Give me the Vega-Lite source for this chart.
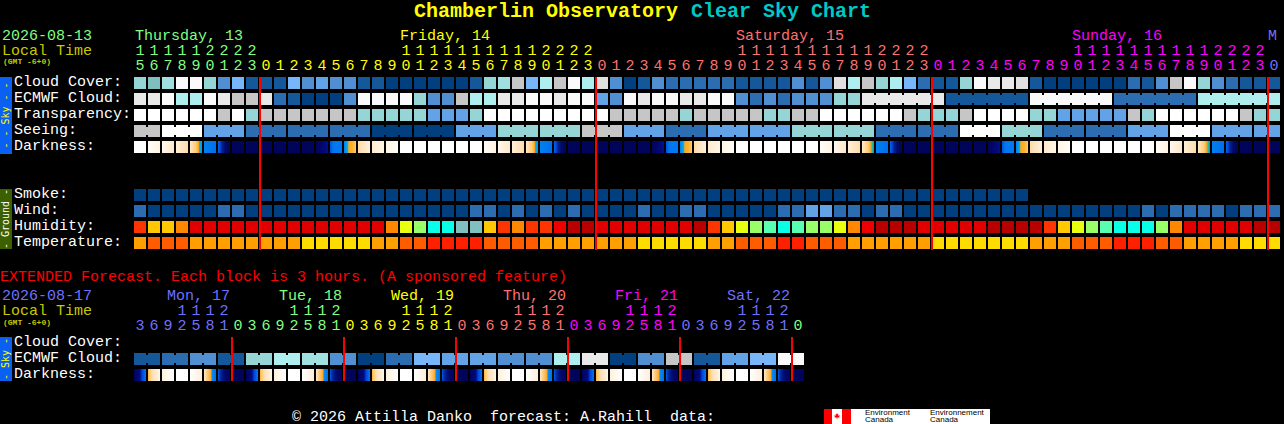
{"$schema":"https://vega.github.io/schema/vega-lite/v6.json","width":1284,"height":424,"autosize":{"type":"fit","contains":"padding"},"padding":0,"background":"#000000","config":{"view":{"stroke":null}},
"datasets":{
"cells":[
{"row":0,"cell":0,"level":"t"},{"row":0,"cell":1,"level":"T"},{"row":0,"cell":2,"level":"a"},{"row":0,"cell":3,"level":"w"},{"row":0,"cell":4,"level":"w"},{"row":0,"cell":5,"level":"t"},{"row":0,"cell":6,"level":"b"},{"row":0,"cell":7,"level":"s"},{"row":0,"cell":8,"level":"d"},{"row":0,"cell":9,"level":"d"},{"row":0,"cell":10,"level":"d"},{"row":0,"cell":11,"level":"s"},{"row":0,"cell":12,"level":"b"},{"row":0,"cell":13,"level":"l"},{"row":0,"cell":14,"level":"b"},{"row":0,"cell":15,"level":"b"},{"row":0,"cell":16,"level":"d"},{"row":0,"cell":17,"level":"d"},{"row":0,"cell":18,"level":"n"},{"row":0,"cell":19,"level":"n"},{"row":0,"cell":20,"level":"n"},{"row":0,"cell":21,"level":"n"},{"row":0,"cell":22,"level":"n"},{"row":0,"cell":23,"level":"n"},{"row":0,"cell":24,"level":"d"},{"row":0,"cell":25,"level":"t"},{"row":0,"cell":26,"level":"a"},{"row":0,"cell":27,"level":"g"},{"row":0,"cell":28,"level":"s"},{"row":0,"cell":29,"level":"p"},{"row":0,"cell":30,"level":"g"},{"row":0,"cell":31,"level":"w"},{"row":0,"cell":32,"level":"p"},{"row":0,"cell":33,"level":"h"},{"row":0,"cell":34,"level":"b"},{"row":0,"cell":35,"level":"n"},{"row":0,"cell":36,"level":"d"},{"row":0,"cell":37,"level":"b"},{"row":0,"cell":38,"level":"m"},{"row":0,"cell":39,"level":"m"},{"row":0,"cell":40,"level":"m"},{"row":0,"cell":41,"level":"m"},{"row":0,"cell":42,"level":"m"},{"row":0,"cell":43,"level":"d"},{"row":0,"cell":44,"level":"d"},{"row":0,"cell":45,"level":"d"},{"row":0,"cell":46,"level":"d"},{"row":0,"cell":47,"level":"b"},{"row":0,"cell":48,"level":"d"},{"row":0,"cell":49,"level":"b"},{"row":0,"cell":50,"level":"h"},{"row":0,"cell":51,"level":"p"},{"row":0,"cell":52,"level":"g"},{"row":0,"cell":53,"level":"t"},{"row":0,"cell":54,"level":"p"},{"row":0,"cell":55,"level":"s"},{"row":0,"cell":56,"level":"m"},{"row":0,"cell":57,"level":"d"},{"row":0,"cell":58,"level":"d"},{"row":0,"cell":59,"level":"t"},{"row":0,"cell":60,"level":"w"},{"row":0,"cell":61,"level":"e"},{"row":0,"cell":62,"level":"e"},{"row":0,"cell":63,"level":"h"},{"row":0,"cell":64,"level":"d"},{"row":0,"cell":65,"level":"n"},{"row":0,"cell":66,"level":"n"},{"row":0,"cell":67,"level":"n"},{"row":0,"cell":68,"level":"n"},{"row":0,"cell":69,"level":"n"},{"row":0,"cell":70,"level":"n"},{"row":0,"cell":71,"level":"m"},{"row":0,"cell":72,"level":"d"},{"row":0,"cell":73,"level":"b"},{"row":0,"cell":74,"level":"g"},{"row":0,"cell":75,"level":"w"},{"row":0,"cell":76,"level":"t"},{"row":0,"cell":77,"level":"b"},{"row":0,"cell":78,"level":"m"},{"row":0,"cell":79,"level":"d"},{"row":0,"cell":80,"level":"d"},{"row":0,"cell":81,"level":"d"},
{"row":1,"cell":0,"level":"e"},{"row":1,"cell":1,"level":"e"},{"row":1,"cell":2,"level":"w"},{"row":1,"cell":3,"level":"p"},{"row":1,"cell":4,"level":"p"},{"row":1,"cell":5,"level":"w"},{"row":1,"cell":6,"level":"e"},{"row":1,"cell":7,"level":"g"},{"row":1,"cell":8,"level":"g"},{"row":1,"cell":9,"level":"e"},{"row":1,"cell":10,"level":"m"},{"row":1,"cell":11,"level":"d"},{"row":1,"cell":12,"level":"n"},{"row":1,"cell":13,"level":"n"},{"row":1,"cell":14,"level":"n"},{"row":1,"cell":15,"level":"b"},{"row":1,"cell":16,"level":"w"},{"row":1,"cell":17,"level":"w"},{"row":1,"cell":18,"level":"w"},{"row":1,"cell":19,"level":"w"},{"row":1,"cell":20,"level":"t"},{"row":1,"cell":21,"level":"b"},{"row":1,"cell":22,"level":"b"},{"row":1,"cell":23,"level":"g"},{"row":1,"cell":24,"level":"p"},{"row":1,"cell":25,"level":"p"},{"row":1,"cell":26,"level":"e"},{"row":1,"cell":27,"level":"e"},{"row":1,"cell":28,"level":"w"},{"row":1,"cell":29,"level":"w"},{"row":1,"cell":30,"level":"e"},{"row":1,"cell":31,"level":"w"},{"row":1,"cell":32,"level":"w"},{"row":1,"cell":33,"level":"l"},{"row":1,"cell":34,"level":"b"},{"row":1,"cell":35,"level":"w"},{"row":1,"cell":36,"level":"e"},{"row":1,"cell":37,"level":"w"},{"row":1,"cell":38,"level":"w"},{"row":1,"cell":39,"level":"e"},{"row":1,"cell":40,"level":"e"},{"row":1,"cell":41,"level":"w"},{"row":1,"cell":42,"level":"w"},{"row":1,"cell":43,"level":"b"},{"row":1,"cell":44,"level":"m"},{"row":1,"cell":45,"level":"b"},{"row":1,"cell":46,"level":"m"},{"row":1,"cell":47,"level":"b"},{"row":1,"cell":48,"level":"b"},{"row":1,"cell":49,"level":"b"},{"row":1,"cell":50,"level":"t"},{"row":1,"cell":51,"level":"t"},{"row":1,"cell":52,"level":"e"},{"row":1,"cell":53,"level":"e"},{"row":1,"cell":54,"level":"e"},{"row":1,"cell":55,"level":"e"},{"row":1,"cell":56,"level":"e"},{"row":1,"cell":57,"level":"e"},{"row":1,"cell":58,"level":"d"},{"row":1,"cell":59,"level":"d"},{"row":1,"cell":60,"level":"d"},{"row":1,"cell":61,"level":"d"},{"row":1,"cell":62,"level":"d"},{"row":1,"cell":63,"level":"d"},{"row":1,"cell":64,"level":"w"},{"row":1,"cell":65,"level":"w"},{"row":1,"cell":66,"level":"w"},{"row":1,"cell":67,"level":"w"},{"row":1,"cell":68,"level":"w"},{"row":1,"cell":69,"level":"w"},{"row":1,"cell":70,"level":"m"},{"row":1,"cell":71,"level":"m"},{"row":1,"cell":72,"level":"m"},{"row":1,"cell":73,"level":"m"},{"row":1,"cell":74,"level":"m"},{"row":1,"cell":75,"level":"m"},{"row":1,"cell":76,"level":"p"},{"row":1,"cell":77,"level":"p"},{"row":1,"cell":78,"level":"p"},{"row":1,"cell":79,"level":"p"},{"row":1,"cell":80,"level":"p"},{"row":1,"cell":81,"level":"p"},
{"row":2,"cell":0,"level":"W"},{"row":2,"cell":1,"level":"W"},{"row":2,"cell":2,"level":"W"},{"row":2,"cell":3,"level":"W"},{"row":2,"cell":4,"level":"W"},{"row":2,"cell":5,"level":"W"},{"row":2,"cell":6,"level":"g"},{"row":2,"cell":7,"level":"W"},{"row":2,"cell":8,"level":"t"},{"row":2,"cell":9,"level":"g"},{"row":2,"cell":10,"level":"g"},{"row":2,"cell":11,"level":"g"},{"row":2,"cell":12,"level":"g"},{"row":2,"cell":13,"level":"g"},{"row":2,"cell":14,"level":"g"},{"row":2,"cell":15,"level":"g"},{"row":2,"cell":16,"level":"t"},{"row":2,"cell":17,"level":"t"},{"row":2,"cell":18,"level":"t"},{"row":2,"cell":19,"level":"t"},{"row":2,"cell":20,"level":"t"},{"row":2,"cell":21,"level":"l"},{"row":2,"cell":22,"level":"l"},{"row":2,"cell":23,"level":"l"},{"row":2,"cell":24,"level":"t"},{"row":2,"cell":25,"level":"W"},{"row":2,"cell":26,"level":"W"},{"row":2,"cell":27,"level":"W"},{"row":2,"cell":28,"level":"W"},{"row":2,"cell":29,"level":"W"},{"row":2,"cell":30,"level":"W"},{"row":2,"cell":31,"level":"W"},{"row":2,"cell":32,"level":"W"},{"row":2,"cell":33,"level":"W"},{"row":2,"cell":34,"level":"g"},{"row":2,"cell":35,"level":"g"},{"row":2,"cell":36,"level":"g"},{"row":2,"cell":37,"level":"g"},{"row":2,"cell":38,"level":"g"},{"row":2,"cell":39,"level":"t"},{"row":2,"cell":40,"level":"g"},{"row":2,"cell":41,"level":"g"},{"row":2,"cell":42,"level":"g"},{"row":2,"cell":43,"level":"g"},{"row":2,"cell":44,"level":"g"},{"row":2,"cell":45,"level":"t"},{"row":2,"cell":46,"level":"t"},{"row":2,"cell":47,"level":"g"},{"row":2,"cell":48,"level":"g"},{"row":2,"cell":49,"level":"W"},{"row":2,"cell":50,"level":"W"},{"row":2,"cell":51,"level":"W"},{"row":2,"cell":52,"level":"W"},{"row":2,"cell":53,"level":"W"},{"row":2,"cell":54,"level":"W"},{"row":2,"cell":55,"level":"g"},{"row":2,"cell":56,"level":"t"},{"row":2,"cell":57,"level":"t"},{"row":2,"cell":58,"level":"t"},{"row":2,"cell":59,"level":"g"},{"row":2,"cell":60,"level":"W"},{"row":2,"cell":61,"level":"W"},{"row":2,"cell":62,"level":"W"},{"row":2,"cell":63,"level":"W"},{"row":2,"cell":64,"level":"t"},{"row":2,"cell":65,"level":"t"},{"row":2,"cell":66,"level":"l"},{"row":2,"cell":67,"level":"l"},{"row":2,"cell":68,"level":"l"},{"row":2,"cell":69,"level":"l"},{"row":2,"cell":70,"level":"l"},{"row":2,"cell":71,"level":"g"},{"row":2,"cell":72,"level":"t"},{"row":2,"cell":73,"level":"W"},{"row":2,"cell":74,"level":"W"},{"row":2,"cell":75,"level":"W"},{"row":2,"cell":76,"level":"W"},{"row":2,"cell":77,"level":"W"},{"row":2,"cell":78,"level":"W"},{"row":2,"cell":79,"level":"g"},{"row":2,"cell":80,"level":"t"},{"row":2,"cell":81,"level":"t"},
{"row":3,"cell":0,"level":"g"},{"row":3,"cell":1,"level":"g"},{"row":3,"cell":2,"level":"W"},{"row":3,"cell":3,"level":"W"},{"row":3,"cell":4,"level":"W"},{"row":3,"cell":5,"level":"l"},{"row":3,"cell":6,"level":"l"},{"row":3,"cell":7,"level":"l"},{"row":3,"cell":8,"level":"m"},{"row":3,"cell":9,"level":"m"},{"row":3,"cell":10,"level":"m"},{"row":3,"cell":11,"level":"m"},{"row":3,"cell":12,"level":"m"},{"row":3,"cell":13,"level":"m"},{"row":3,"cell":14,"level":"m"},{"row":3,"cell":15,"level":"m"},{"row":3,"cell":16,"level":"m"},{"row":3,"cell":17,"level":"n"},{"row":3,"cell":18,"level":"n"},{"row":3,"cell":19,"level":"n"},{"row":3,"cell":20,"level":"n"},{"row":3,"cell":21,"level":"n"},{"row":3,"cell":22,"level":"n"},{"row":3,"cell":23,"level":"l"},{"row":3,"cell":24,"level":"l"},{"row":3,"cell":25,"level":"l"},{"row":3,"cell":26,"level":"t"},{"row":3,"cell":27,"level":"t"},{"row":3,"cell":28,"level":"t"},{"row":3,"cell":29,"level":"t"},{"row":3,"cell":30,"level":"t"},{"row":3,"cell":31,"level":"t"},{"row":3,"cell":32,"level":"g"},{"row":3,"cell":33,"level":"g"},{"row":3,"cell":34,"level":"g"},{"row":3,"cell":35,"level":"l"},{"row":3,"cell":36,"level":"l"},{"row":3,"cell":37,"level":"l"},{"row":3,"cell":38,"level":"m"},{"row":3,"cell":39,"level":"m"},{"row":3,"cell":40,"level":"m"},{"row":3,"cell":41,"level":"l"},{"row":3,"cell":42,"level":"l"},{"row":3,"cell":43,"level":"l"},{"row":3,"cell":44,"level":"l"},{"row":3,"cell":45,"level":"l"},{"row":3,"cell":46,"level":"l"},{"row":3,"cell":47,"level":"t"},{"row":3,"cell":48,"level":"t"},{"row":3,"cell":49,"level":"t"},{"row":3,"cell":50,"level":"t"},{"row":3,"cell":51,"level":"t"},{"row":3,"cell":52,"level":"t"},{"row":3,"cell":53,"level":"m"},{"row":3,"cell":54,"level":"m"},{"row":3,"cell":55,"level":"m"},{"row":3,"cell":56,"level":"m"},{"row":3,"cell":57,"level":"m"},{"row":3,"cell":58,"level":"m"},{"row":3,"cell":59,"level":"W"},{"row":3,"cell":60,"level":"W"},{"row":3,"cell":61,"level":"W"},{"row":3,"cell":62,"level":"t"},{"row":3,"cell":63,"level":"t"},{"row":3,"cell":64,"level":"t"},{"row":3,"cell":65,"level":"m"},{"row":3,"cell":66,"level":"m"},{"row":3,"cell":67,"level":"m"},{"row":3,"cell":68,"level":"m"},{"row":3,"cell":69,"level":"m"},{"row":3,"cell":70,"level":"m"},{"row":3,"cell":71,"level":"l"},{"row":3,"cell":72,"level":"l"},{"row":3,"cell":73,"level":"l"},{"row":3,"cell":74,"level":"W"},{"row":3,"cell":75,"level":"W"},{"row":3,"cell":76,"level":"W"},{"row":3,"cell":77,"level":"l"},{"row":3,"cell":78,"level":"l"},{"row":3,"cell":79,"level":"l"},{"row":3,"cell":80,"level":"l"},{"row":3,"cell":81,"level":"l"},
{"row":4,"cell":0,"level":"W"},{"row":4,"cell":1,"level":"E1"},{"row":4,"cell":2,"level":"E2"},{"row":4,"cell":3,"level":"E3"},{"row":4,"cell":4,"level":"E4"},{"row":4,"cell":5,"level":"E5"},{"row":4,"cell":6,"level":"E6"},{"row":4,"cell":7,"level":"N"},{"row":4,"cell":8,"level":"N"},{"row":4,"cell":9,"level":"N"},{"row":4,"cell":10,"level":"N"},{"row":4,"cell":11,"level":"N"},{"row":4,"cell":12,"level":"N"},{"row":4,"cell":13,"level":"M1"},{"row":4,"cell":14,"level":"M2"},{"row":4,"cell":15,"level":"M3"},{"row":4,"cell":16,"level":"M4"},{"row":4,"cell":17,"level":"M5"},{"row":4,"cell":18,"level":"M6"},{"row":4,"cell":19,"level":"W"},{"row":4,"cell":20,"level":"W"},{"row":4,"cell":21,"level":"W"},{"row":4,"cell":22,"level":"W"},{"row":4,"cell":23,"level":"W"},{"row":4,"cell":24,"level":"W"},{"row":4,"cell":25,"level":"E1"},{"row":4,"cell":26,"level":"E2"},{"row":4,"cell":27,"level":"E3"},{"row":4,"cell":28,"level":"E4"},{"row":4,"cell":29,"level":"E5"},{"row":4,"cell":30,"level":"E6"},{"row":4,"cell":31,"level":"N"},{"row":4,"cell":32,"level":"N"},{"row":4,"cell":33,"level":"N"},{"row":4,"cell":34,"level":"N"},{"row":4,"cell":35,"level":"N"},{"row":4,"cell":36,"level":"N"},{"row":4,"cell":37,"level":"M1"},{"row":4,"cell":38,"level":"M2"},{"row":4,"cell":39,"level":"M3"},{"row":4,"cell":40,"level":"M4"},{"row":4,"cell":41,"level":"M5"},{"row":4,"cell":42,"level":"M6"},{"row":4,"cell":43,"level":"W"},{"row":4,"cell":44,"level":"W"},{"row":4,"cell":45,"level":"W"},{"row":4,"cell":46,"level":"W"},{"row":4,"cell":47,"level":"W"},{"row":4,"cell":48,"level":"W"},{"row":4,"cell":49,"level":"E1"},{"row":4,"cell":50,"level":"E2"},{"row":4,"cell":51,"level":"E3"},{"row":4,"cell":52,"level":"E4b"},{"row":4,"cell":53,"level":"E5"},{"row":4,"cell":54,"level":"E6"},{"row":4,"cell":55,"level":"N"},{"row":4,"cell":56,"level":"N"},{"row":4,"cell":57,"level":"N"},{"row":4,"cell":58,"level":"N"},{"row":4,"cell":59,"level":"N"},{"row":4,"cell":60,"level":"N"},{"row":4,"cell":61,"level":"M1"},{"row":4,"cell":62,"level":"M2"},{"row":4,"cell":63,"level":"M3"},{"row":4,"cell":64,"level":"M4"},{"row":4,"cell":65,"level":"M5"},{"row":4,"cell":66,"level":"M6"},{"row":4,"cell":67,"level":"W"},{"row":4,"cell":68,"level":"W"},{"row":4,"cell":69,"level":"W"},{"row":4,"cell":70,"level":"W"},{"row":4,"cell":71,"level":"W"},{"row":4,"cell":72,"level":"W"},{"row":4,"cell":73,"level":"E1"},{"row":4,"cell":74,"level":"E2"},{"row":4,"cell":75,"level":"E3"},{"row":4,"cell":76,"level":"E4b"},{"row":4,"cell":77,"level":"E5"},{"row":4,"cell":78,"level":"E6"},{"row":4,"cell":79,"level":"N"},{"row":4,"cell":80,"level":"N"},{"row":4,"cell":81,"level":"N"},
{"row":7,"cell":0,"level":"n"},{"row":7,"cell":1,"level":"n"},{"row":7,"cell":2,"level":"n"},{"row":7,"cell":3,"level":"n"},{"row":7,"cell":4,"level":"n"},{"row":7,"cell":5,"level":"n"},{"row":7,"cell":6,"level":"n"},{"row":7,"cell":7,"level":"n"},{"row":7,"cell":8,"level":"n"},{"row":7,"cell":9,"level":"n"},{"row":7,"cell":10,"level":"n"},{"row":7,"cell":11,"level":"n"},{"row":7,"cell":12,"level":"n"},{"row":7,"cell":13,"level":"n"},{"row":7,"cell":14,"level":"n"},{"row":7,"cell":15,"level":"n"},{"row":7,"cell":16,"level":"n"},{"row":7,"cell":17,"level":"n"},{"row":7,"cell":18,"level":"n"},{"row":7,"cell":19,"level":"n"},{"row":7,"cell":20,"level":"n"},{"row":7,"cell":21,"level":"n"},{"row":7,"cell":22,"level":"n"},{"row":7,"cell":23,"level":"n"},{"row":7,"cell":24,"level":"n"},{"row":7,"cell":25,"level":"n"},{"row":7,"cell":26,"level":"n"},{"row":7,"cell":27,"level":"n"},{"row":7,"cell":28,"level":"n"},{"row":7,"cell":29,"level":"n"},{"row":7,"cell":30,"level":"n"},{"row":7,"cell":31,"level":"n"},{"row":7,"cell":32,"level":"n"},{"row":7,"cell":33,"level":"n"},{"row":7,"cell":34,"level":"n"},{"row":7,"cell":35,"level":"n"},{"row":7,"cell":36,"level":"n"},{"row":7,"cell":37,"level":"n"},{"row":7,"cell":38,"level":"n"},{"row":7,"cell":39,"level":"n"},{"row":7,"cell":40,"level":"n"},{"row":7,"cell":41,"level":"n"},{"row":7,"cell":42,"level":"n"},{"row":7,"cell":43,"level":"n"},{"row":7,"cell":44,"level":"n"},{"row":7,"cell":45,"level":"n"},{"row":7,"cell":46,"level":"n"},{"row":7,"cell":47,"level":"n"},{"row":7,"cell":48,"level":"n"},{"row":7,"cell":49,"level":"n"},{"row":7,"cell":50,"level":"n"},{"row":7,"cell":51,"level":"n"},{"row":7,"cell":52,"level":"n"},{"row":7,"cell":53,"level":"n"},{"row":7,"cell":54,"level":"n"},{"row":7,"cell":55,"level":"n"},{"row":7,"cell":56,"level":"n"},{"row":7,"cell":57,"level":"n"},{"row":7,"cell":58,"level":"n"},{"row":7,"cell":59,"level":"n"},{"row":7,"cell":60,"level":"n"},{"row":7,"cell":61,"level":"n"},{"row":7,"cell":62,"level":"n"},{"row":7,"cell":63,"level":"n"},
{"row":8,"cell":0,"level":"m"},{"row":8,"cell":1,"level":"n"},{"row":8,"cell":2,"level":"n"},{"row":8,"cell":3,"level":"n"},{"row":8,"cell":4,"level":"n"},{"row":8,"cell":5,"level":"n"},{"row":8,"cell":6,"level":"m"},{"row":8,"cell":7,"level":"m"},{"row":8,"cell":8,"level":"n"},{"row":8,"cell":9,"level":"n"},{"row":8,"cell":10,"level":"n"},{"row":8,"cell":11,"level":"n"},{"row":8,"cell":12,"level":"n"},{"row":8,"cell":13,"level":"n"},{"row":8,"cell":14,"level":"n"},{"row":8,"cell":15,"level":"n"},{"row":8,"cell":16,"level":"n"},{"row":8,"cell":17,"level":"n"},{"row":8,"cell":18,"level":"n"},{"row":8,"cell":19,"level":"n"},{"row":8,"cell":20,"level":"n"},{"row":8,"cell":21,"level":"n"},{"row":8,"cell":22,"level":"n"},{"row":8,"cell":23,"level":"n"},{"row":8,"cell":24,"level":"m"},{"row":8,"cell":25,"level":"m"},{"row":8,"cell":26,"level":"n"},{"row":8,"cell":27,"level":"m"},{"row":8,"cell":28,"level":"n"},{"row":8,"cell":29,"level":"m"},{"row":8,"cell":30,"level":"n"},{"row":8,"cell":31,"level":"m"},{"row":8,"cell":32,"level":"n"},{"row":8,"cell":33,"level":"n"},{"row":8,"cell":34,"level":"n"},{"row":8,"cell":35,"level":"n"},{"row":8,"cell":36,"level":"m"},{"row":8,"cell":37,"level":"n"},{"row":8,"cell":38,"level":"n"},{"row":8,"cell":39,"level":"m"},{"row":8,"cell":40,"level":"m"},{"row":8,"cell":41,"level":"n"},{"row":8,"cell":42,"level":"n"},{"row":8,"cell":43,"level":"n"},{"row":8,"cell":44,"level":"n"},{"row":8,"cell":45,"level":"n"},{"row":8,"cell":46,"level":"m"},{"row":8,"cell":47,"level":"m"},{"row":8,"cell":48,"level":"l"},{"row":8,"cell":49,"level":"l"},{"row":8,"cell":50,"level":"m"},{"row":8,"cell":51,"level":"m"},{"row":8,"cell":52,"level":"n"},{"row":8,"cell":53,"level":"m"},{"row":8,"cell":54,"level":"m"},{"row":8,"cell":55,"level":"n"},{"row":8,"cell":56,"level":"n"},{"row":8,"cell":57,"level":"n"},{"row":8,"cell":58,"level":"n"},{"row":8,"cell":59,"level":"n"},{"row":8,"cell":60,"level":"n"},{"row":8,"cell":61,"level":"n"},{"row":8,"cell":62,"level":"n"},{"row":8,"cell":63,"level":"n"},{"row":8,"cell":64,"level":"n"},{"row":8,"cell":65,"level":"n"},{"row":8,"cell":66,"level":"n"},{"row":8,"cell":67,"level":"n"},{"row":8,"cell":68,"level":"n"},{"row":8,"cell":69,"level":"n"},{"row":8,"cell":70,"level":"n"},{"row":8,"cell":71,"level":"n"},{"row":8,"cell":72,"level":"m"},{"row":8,"cell":73,"level":"n"},{"row":8,"cell":74,"level":"m"},{"row":8,"cell":75,"level":"m"},{"row":8,"cell":76,"level":"m"},{"row":8,"cell":77,"level":"m"},{"row":8,"cell":78,"level":"n"},{"row":8,"cell":79,"level":"m"},{"row":8,"cell":80,"level":"m"},{"row":8,"cell":81,"level":"m"},
{"row":9,"cell":0,"level":"ho"},{"row":9,"cell":1,"level":"hY"},{"row":9,"cell":2,"level":"hY"},{"row":9,"cell":3,"level":"hO"},{"row":9,"cell":4,"level":"hr"},{"row":9,"cell":5,"level":"hr"},{"row":9,"cell":6,"level":"hr"},{"row":9,"cell":7,"level":"hr"},{"row":9,"cell":8,"level":"hr"},{"row":9,"cell":9,"level":"hr"},{"row":9,"cell":10,"level":"hr"},{"row":9,"cell":11,"level":"hr"},{"row":9,"cell":12,"level":"hr"},{"row":9,"cell":13,"level":"hr"},{"row":9,"cell":14,"level":"hr"},{"row":9,"cell":15,"level":"hr"},{"row":9,"cell":16,"level":"hr"},{"row":9,"cell":17,"level":"hr"},{"row":9,"cell":18,"level":"hO"},{"row":9,"cell":19,"level":"hy"},{"row":9,"cell":20,"level":"hG"},{"row":9,"cell":21,"level":"hC"},{"row":9,"cell":22,"level":"hC"},{"row":9,"cell":23,"level":"hA"},{"row":9,"cell":24,"level":"hA"},{"row":9,"cell":25,"level":"hY"},{"row":9,"cell":26,"level":"ho"},{"row":9,"cell":27,"level":"hO"},{"row":9,"cell":28,"level":"ho"},{"row":9,"cell":29,"level":"ho"},{"row":9,"cell":30,"level":"hE"},{"row":9,"cell":31,"level":"hR"},{"row":9,"cell":32,"level":"hR"},{"row":9,"cell":33,"level":"hr"},{"row":9,"cell":34,"level":"hr"},{"row":9,"cell":35,"level":"hr"},{"row":9,"cell":36,"level":"hr"},{"row":9,"cell":37,"level":"hr"},{"row":9,"cell":38,"level":"hr"},{"row":9,"cell":39,"level":"hr"},{"row":9,"cell":40,"level":"hR"},{"row":9,"cell":41,"level":"ho"},{"row":9,"cell":42,"level":"hY"},{"row":9,"cell":43,"level":"hy"},{"row":9,"cell":44,"level":"hG"},{"row":9,"cell":45,"level":"hM"},{"row":9,"cell":46,"level":"hC"},{"row":9,"cell":47,"level":"hM"},{"row":9,"cell":48,"level":"hG"},{"row":9,"cell":49,"level":"hG"},{"row":9,"cell":50,"level":"hy"},{"row":9,"cell":51,"level":"hO"},{"row":9,"cell":52,"level":"hE"},{"row":9,"cell":53,"level":"hR"},{"row":9,"cell":54,"level":"hR"},{"row":9,"cell":55,"level":"hR"},{"row":9,"cell":56,"level":"hr"},{"row":9,"cell":57,"level":"hr"},{"row":9,"cell":58,"level":"hr"},{"row":9,"cell":59,"level":"hr"},{"row":9,"cell":60,"level":"hr"},{"row":9,"cell":61,"level":"hR"},{"row":9,"cell":62,"level":"hR"},{"row":9,"cell":63,"level":"hR"},{"row":9,"cell":64,"level":"hR"},{"row":9,"cell":65,"level":"ho"},{"row":9,"cell":66,"level":"hY"},{"row":9,"cell":67,"level":"hy"},{"row":9,"cell":68,"level":"hG"},{"row":9,"cell":69,"level":"hM"},{"row":9,"cell":70,"level":"hC"},{"row":9,"cell":71,"level":"hC"},{"row":9,"cell":72,"level":"hC"},{"row":9,"cell":73,"level":"hG"},{"row":9,"cell":74,"level":"hO"},{"row":9,"cell":75,"level":"hr"},{"row":9,"cell":76,"level":"hr"},{"row":9,"cell":77,"level":"hr"},{"row":9,"cell":78,"level":"hr"},{"row":9,"cell":79,"level":"hr"},{"row":9,"cell":80,"level":"hR"},{"row":9,"cell":81,"level":"hR"},
{"row":10,"cell":0,"level":"ta"},{"row":10,"cell":1,"level":"tf"},{"row":10,"cell":2,"level":"tf"},{"row":10,"cell":3,"level":"tf"},{"row":10,"cell":4,"level":"ta"},{"row":10,"cell":5,"level":"ta"},{"row":10,"cell":6,"level":"ta"},{"row":10,"cell":7,"level":"ta"},{"row":10,"cell":8,"level":"ta"},{"row":10,"cell":9,"level":"ta"},{"row":10,"cell":10,"level":"ta"},{"row":10,"cell":11,"level":"ta"},{"row":10,"cell":12,"level":"ty"},{"row":10,"cell":13,"level":"ty"},{"row":10,"cell":14,"level":"ty"},{"row":10,"cell":15,"level":"ty"},{"row":10,"cell":16,"level":"ty"},{"row":10,"cell":17,"level":"ta"},{"row":10,"cell":18,"level":"ta"},{"row":10,"cell":19,"level":"tf"},{"row":10,"cell":20,"level":"tf"},{"row":10,"cell":21,"level":"tr"},{"row":10,"cell":22,"level":"tr"},{"row":10,"cell":23,"level":"tr"},{"row":10,"cell":24,"level":"tr"},{"row":10,"cell":25,"level":"tf"},{"row":10,"cell":26,"level":"tf"},{"row":10,"cell":27,"level":"tf"},{"row":10,"cell":28,"level":"tf"},{"row":10,"cell":29,"level":"ta"},{"row":10,"cell":30,"level":"ta"},{"row":10,"cell":31,"level":"ta"},{"row":10,"cell":32,"level":"ta"},{"row":10,"cell":33,"level":"ta"},{"row":10,"cell":34,"level":"ta"},{"row":10,"cell":35,"level":"ta"},{"row":10,"cell":36,"level":"ty"},{"row":10,"cell":37,"level":"ty"},{"row":10,"cell":38,"level":"ty"},{"row":10,"cell":39,"level":"ty"},{"row":10,"cell":40,"level":"ty"},{"row":10,"cell":41,"level":"ta"},{"row":10,"cell":42,"level":"ta"},{"row":10,"cell":43,"level":"tf"},{"row":10,"cell":44,"level":"tf"},{"row":10,"cell":45,"level":"tf"},{"row":10,"cell":46,"level":"tr"},{"row":10,"cell":47,"level":"tr"},{"row":10,"cell":48,"level":"tf"},{"row":10,"cell":49,"level":"tf"},{"row":10,"cell":50,"level":"tf"},{"row":10,"cell":51,"level":"ta"},{"row":10,"cell":52,"level":"ta"},{"row":10,"cell":53,"level":"ta"},{"row":10,"cell":54,"level":"ta"},{"row":10,"cell":55,"level":"ta"},{"row":10,"cell":56,"level":"ta"},{"row":10,"cell":57,"level":"ty"},{"row":10,"cell":58,"level":"ty"},{"row":10,"cell":59,"level":"ty"},{"row":10,"cell":60,"level":"ty"},{"row":10,"cell":61,"level":"ty"},{"row":10,"cell":62,"level":"ty"},{"row":10,"cell":63,"level":"ty"},{"row":10,"cell":64,"level":"ta"},{"row":10,"cell":65,"level":"ta"},{"row":10,"cell":66,"level":"ta"},{"row":10,"cell":67,"level":"tf"},{"row":10,"cell":68,"level":"tf"},{"row":10,"cell":69,"level":"tf"},{"row":10,"cell":70,"level":"tr"},{"row":10,"cell":71,"level":"tr"},{"row":10,"cell":72,"level":"tr"},{"row":10,"cell":73,"level":"tf"},{"row":10,"cell":74,"level":"tf"},{"row":10,"cell":75,"level":"ta"},{"row":10,"cell":76,"level":"ta"},{"row":10,"cell":77,"level":"ta"},{"row":10,"cell":78,"level":"ta"},{"row":10,"cell":79,"level":"ty"},{"row":10,"cell":80,"level":"ty"},{"row":10,"cell":81,"level":"ty"},
{"row":17.25,"cell":0,"level":"d"},{"row":17.25,"cell":1,"level":"d"},{"row":17.25,"cell":2,"level":"m"},{"row":17.25,"cell":3,"level":"m"},{"row":17.25,"cell":4,"level":"b"},{"row":17.25,"cell":5,"level":"b"},{"row":17.25,"cell":6,"level":"d"},{"row":17.25,"cell":7,"level":"d"},{"row":17.25,"cell":8,"level":"t"},{"row":17.25,"cell":9,"level":"t"},{"row":17.25,"cell":10,"level":"p"},{"row":17.25,"cell":11,"level":"p"},{"row":17.25,"cell":12,"level":"a"},{"row":17.25,"cell":13,"level":"a"},{"row":17.25,"cell":14,"level":"b"},{"row":17.25,"cell":15,"level":"b"},{"row":17.25,"cell":16,"level":"n"},{"row":17.25,"cell":17,"level":"n"},{"row":17.25,"cell":18,"level":"m"},{"row":17.25,"cell":19,"level":"m"},{"row":17.25,"cell":20,"level":"s"},{"row":17.25,"cell":21,"level":"s"},{"row":17.25,"cell":22,"level":"l"},{"row":17.25,"cell":23,"level":"l"},{"row":17.25,"cell":24,"level":"l"},{"row":17.25,"cell":25,"level":"l"},{"row":17.25,"cell":26,"level":"b"},{"row":17.25,"cell":27,"level":"b"},{"row":17.25,"cell":28,"level":"b"},{"row":17.25,"cell":29,"level":"b"},{"row":17.25,"cell":30,"level":"p"},{"row":17.25,"cell":31,"level":"p"},{"row":17.25,"cell":32,"level":"e"},{"row":17.25,"cell":33,"level":"e"},{"row":17.25,"cell":34,"level":"n"},{"row":17.25,"cell":35,"level":"n"},{"row":17.25,"cell":36,"level":"b"},{"row":17.25,"cell":37,"level":"b"},{"row":17.25,"cell":38,"level":"g"},{"row":17.25,"cell":39,"level":"g"},{"row":17.25,"cell":40,"level":"d"},{"row":17.25,"cell":41,"level":"d"},{"row":17.25,"cell":42,"level":"l"},{"row":17.25,"cell":43,"level":"l"},{"row":17.25,"cell":44,"level":"s"},{"row":17.25,"cell":45,"level":"s"},{"row":17.25,"cell":46,"level":"w"},{"row":17.25,"cell":47,"level":"w"},
{"row":18.25,"cell":0,"level":"X0"},{"row":18.25,"cell":1,"level":"X1"},{"row":18.25,"cell":2,"level":"X2"},{"row":18.25,"cell":3,"level":"W"},{"row":18.25,"cell":4,"level":"X4"},{"row":18.25,"cell":5,"level":"X5"},{"row":18.25,"cell":6,"level":"X6"},{"row":18.25,"cell":7,"level":"N"},{"row":18.25,"cell":8,"level":"X0"},{"row":18.25,"cell":9,"level":"X1"},{"row":18.25,"cell":10,"level":"X2"},{"row":18.25,"cell":11,"level":"W"},{"row":18.25,"cell":12,"level":"X4"},{"row":18.25,"cell":13,"level":"X5"},{"row":18.25,"cell":14,"level":"X6"},{"row":18.25,"cell":15,"level":"N"},{"row":18.25,"cell":16,"level":"X0"},{"row":18.25,"cell":17,"level":"X1"},{"row":18.25,"cell":18,"level":"X2"},{"row":18.25,"cell":19,"level":"W"},{"row":18.25,"cell":20,"level":"X4"},{"row":18.25,"cell":21,"level":"X5"},{"row":18.25,"cell":22,"level":"X6"},{"row":18.25,"cell":23,"level":"N"},{"row":18.25,"cell":24,"level":"X0"},{"row":18.25,"cell":25,"level":"X1"},{"row":18.25,"cell":26,"level":"X2"},{"row":18.25,"cell":27,"level":"W"},{"row":18.25,"cell":28,"level":"X4"},{"row":18.25,"cell":29,"level":"X5"},{"row":18.25,"cell":30,"level":"X6"},{"row":18.25,"cell":31,"level":"N"},{"row":18.25,"cell":32,"level":"X0"},{"row":18.25,"cell":33,"level":"X1"},{"row":18.25,"cell":34,"level":"X2"},{"row":18.25,"cell":35,"level":"W"},{"row":18.25,"cell":36,"level":"X4"},{"row":18.25,"cell":37,"level":"X5"},{"row":18.25,"cell":38,"level":"X6"},{"row":18.25,"cell":39,"level":"N"},{"row":18.25,"cell":40,"level":"X0"},{"row":18.25,"cell":41,"level":"X1"},{"row":18.25,"cell":42,"level":"X2"},{"row":18.25,"cell":43,"level":"W"},{"row":18.25,"cell":44,"level":"X4"},{"row":18.25,"cell":45,"level":"X5"},{"row":18.25,"cell":46,"level":"X6"},{"row":18.25,"cell":47,"level":"N"}
],
"links":[
{"row":1,"cell":52,"cell2":57,"level":"e"},{"row":1,"cell":58,"cell2":63,"level":"d"},{"row":1,"cell":64,"cell2":69,"level":"w"},{"row":1,"cell":70,"cell2":75,"level":"m"},{"row":1,"cell":76,"cell2":81,"level":"p"},
{"row":3,"cell":0,"cell2":1,"level":"g"},{"row":3,"cell":2,"cell2":4,"level":"W"},{"row":3,"cell":5,"cell2":7,"level":"l"},{"row":3,"cell":8,"cell2":10,"level":"m"},{"row":3,"cell":11,"cell2":13,"level":"m"},{"row":3,"cell":14,"cell2":16,"level":"m"},{"row":3,"cell":17,"cell2":19,"level":"n"},{"row":3,"cell":20,"cell2":22,"level":"n"},{"row":3,"cell":23,"cell2":25,"level":"l"},{"row":3,"cell":26,"cell2":28,"level":"t"},{"row":3,"cell":29,"cell2":31,"level":"t"},{"row":3,"cell":32,"cell2":34,"level":"g"},{"row":3,"cell":35,"cell2":37,"level":"l"},{"row":3,"cell":38,"cell2":40,"level":"m"},{"row":3,"cell":41,"cell2":43,"level":"l"},{"row":3,"cell":44,"cell2":46,"level":"l"},{"row":3,"cell":47,"cell2":49,"level":"t"},{"row":3,"cell":50,"cell2":52,"level":"t"},{"row":3,"cell":53,"cell2":55,"level":"m"},{"row":3,"cell":56,"cell2":58,"level":"m"},{"row":3,"cell":59,"cell2":61,"level":"W"},{"row":3,"cell":62,"cell2":64,"level":"t"},{"row":3,"cell":65,"cell2":67,"level":"m"},{"row":3,"cell":68,"cell2":70,"level":"m"},{"row":3,"cell":71,"cell2":73,"level":"l"},{"row":3,"cell":74,"cell2":76,"level":"W"},{"row":3,"cell":77,"cell2":79,"level":"l"},{"row":3,"cell":80,"cell2":81,"level":"l"},
{"row":17.25,"cell":0,"cell2":1,"level":"d"},{"row":17.25,"cell":2,"cell2":3,"level":"m"},{"row":17.25,"cell":4,"cell2":5,"level":"b"},{"row":17.25,"cell":6,"cell2":7,"level":"d"},{"row":17.25,"cell":8,"cell2":9,"level":"t"},{"row":17.25,"cell":10,"cell2":11,"level":"p"},{"row":17.25,"cell":12,"cell2":13,"level":"a"},{"row":17.25,"cell":14,"cell2":15,"level":"b"},{"row":17.25,"cell":16,"cell2":17,"level":"n"},{"row":17.25,"cell":18,"cell2":19,"level":"m"},{"row":17.25,"cell":20,"cell2":21,"level":"s"},{"row":17.25,"cell":22,"cell2":23,"level":"l"},{"row":17.25,"cell":24,"cell2":25,"level":"l"},{"row":17.25,"cell":26,"cell2":27,"level":"b"},{"row":17.25,"cell":28,"cell2":29,"level":"b"},{"row":17.25,"cell":30,"cell2":31,"level":"p"},{"row":17.25,"cell":32,"cell2":33,"level":"e"},{"row":17.25,"cell":34,"cell2":35,"level":"n"},{"row":17.25,"cell":36,"cell2":37,"level":"b"},{"row":17.25,"cell":38,"cell2":39,"level":"g"},{"row":17.25,"cell":40,"cell2":41,"level":"d"},{"row":17.25,"cell":42,"cell2":43,"level":"l"},{"row":17.25,"cell":44,"cell2":45,"level":"s"},{"row":17.25,"cell":46,"cell2":47,"level":"w"}
],
"digits":[
{"row":-1.125,"cell":0,"label":"5","level":"green"},{"row":-1.125,"cell":1,"label":"6","level":"green"},{"row":-1.125,"cell":2,"label":"7","level":"green"},{"row":-1.125,"cell":3,"label":"8","level":"green"},{"row":-1.125,"cell":4,"label":"9","level":"green"},{"row":-1.125,"cell":5,"label":"0","level":"green"},{"row":-1.125,"cell":6,"label":"1","level":"green"},{"row":-1.125,"cell":7,"label":"2","level":"green"},{"row":-1.125,"cell":8,"label":"3","level":"green"},
{"row":-1.125,"cell":9,"label":"0","level":"yellow"},{"row":-1.125,"cell":10,"label":"1","level":"yellow"},{"row":-1.125,"cell":11,"label":"2","level":"yellow"},{"row":-1.125,"cell":12,"label":"3","level":"yellow"},{"row":-1.125,"cell":13,"label":"4","level":"yellow"},{"row":-1.125,"cell":14,"label":"5","level":"yellow"},{"row":-1.125,"cell":15,"label":"6","level":"yellow"},{"row":-1.125,"cell":16,"label":"7","level":"yellow"},{"row":-1.125,"cell":17,"label":"8","level":"yellow"},{"row":-1.125,"cell":18,"label":"9","level":"yellow"},{"row":-1.125,"cell":19,"label":"0","level":"yellow"},{"row":-1.125,"cell":20,"label":"1","level":"yellow"},{"row":-1.125,"cell":21,"label":"2","level":"yellow"},{"row":-1.125,"cell":22,"label":"3","level":"yellow"},{"row":-1.125,"cell":23,"label":"4","level":"yellow"},{"row":-1.125,"cell":24,"label":"5","level":"yellow"},{"row":-1.125,"cell":25,"label":"6","level":"yellow"},{"row":-1.125,"cell":26,"label":"7","level":"yellow"},{"row":-1.125,"cell":27,"label":"8","level":"yellow"},{"row":-1.125,"cell":28,"label":"9","level":"yellow"},{"row":-1.125,"cell":29,"label":"0","level":"yellow"},{"row":-1.125,"cell":30,"label":"1","level":"yellow"},{"row":-1.125,"cell":31,"label":"2","level":"yellow"},{"row":-1.125,"cell":32,"label":"3","level":"yellow"},
{"row":-1.125,"cell":33,"label":"0","level":"salmon"},{"row":-1.125,"cell":34,"label":"1","level":"salmon"},{"row":-1.125,"cell":35,"label":"2","level":"salmon"},{"row":-1.125,"cell":36,"label":"3","level":"salmon"},{"row":-1.125,"cell":37,"label":"4","level":"salmon"},{"row":-1.125,"cell":38,"label":"5","level":"salmon"},{"row":-1.125,"cell":39,"label":"6","level":"salmon"},{"row":-1.125,"cell":40,"label":"7","level":"salmon"},{"row":-1.125,"cell":41,"label":"8","level":"salmon"},{"row":-1.125,"cell":42,"label":"9","level":"salmon"},{"row":-1.125,"cell":43,"label":"0","level":"salmon"},{"row":-1.125,"cell":44,"label":"1","level":"salmon"},{"row":-1.125,"cell":45,"label":"2","level":"salmon"},{"row":-1.125,"cell":46,"label":"3","level":"salmon"},{"row":-1.125,"cell":47,"label":"4","level":"salmon"},{"row":-1.125,"cell":48,"label":"5","level":"salmon"},{"row":-1.125,"cell":49,"label":"6","level":"salmon"},{"row":-1.125,"cell":50,"label":"7","level":"salmon"},{"row":-1.125,"cell":51,"label":"8","level":"salmon"},{"row":-1.125,"cell":52,"label":"9","level":"salmon"},{"row":-1.125,"cell":53,"label":"0","level":"salmon"},{"row":-1.125,"cell":54,"label":"1","level":"salmon"},{"row":-1.125,"cell":55,"label":"2","level":"salmon"},{"row":-1.125,"cell":56,"label":"3","level":"salmon"},
{"row":-1.125,"cell":57,"label":"0","level":"magenta"},{"row":-1.125,"cell":58,"label":"1","level":"magenta"},{"row":-1.125,"cell":59,"label":"2","level":"magenta"},{"row":-1.125,"cell":60,"label":"3","level":"magenta"},{"row":-1.125,"cell":61,"label":"4","level":"magenta"},{"row":-1.125,"cell":62,"label":"5","level":"magenta"},{"row":-1.125,"cell":63,"label":"6","level":"magenta"},{"row":-1.125,"cell":64,"label":"7","level":"magenta"},{"row":-1.125,"cell":65,"label":"8","level":"magenta"},{"row":-1.125,"cell":66,"label":"9","level":"magenta"},{"row":-1.125,"cell":67,"label":"0","level":"magenta"},{"row":-1.125,"cell":68,"label":"1","level":"magenta"},{"row":-1.125,"cell":69,"label":"2","level":"magenta"},{"row":-1.125,"cell":70,"label":"3","level":"magenta"},{"row":-1.125,"cell":71,"label":"4","level":"magenta"},{"row":-1.125,"cell":72,"label":"5","level":"magenta"},{"row":-1.125,"cell":73,"label":"6","level":"magenta"},{"row":-1.125,"cell":74,"label":"7","level":"magenta"},{"row":-1.125,"cell":75,"label":"8","level":"magenta"},{"row":-1.125,"cell":76,"label":"9","level":"magenta"},{"row":-1.125,"cell":77,"label":"0","level":"magenta"},{"row":-1.125,"cell":78,"label":"1","level":"magenta"},{"row":-1.125,"cell":79,"label":"2","level":"magenta"},{"row":-1.125,"cell":80,"label":"3","level":"magenta"},{"row":-1.125,"cell":81,"label":"0","level":"blue"},
{"row":-2.0625,"cell":0,"label":"1","level":"green"},{"row":-2.0625,"cell":1,"label":"1","level":"green"},{"row":-2.0625,"cell":2,"label":"1","level":"green"},{"row":-2.0625,"cell":3,"label":"1","level":"green"},{"row":-2.0625,"cell":4,"label":"1","level":"green"},{"row":-2.0625,"cell":5,"label":"2","level":"green"},{"row":-2.0625,"cell":6,"label":"2","level":"green"},{"row":-2.0625,"cell":7,"label":"2","level":"green"},{"row":-2.0625,"cell":8,"label":"2","level":"green"},
{"row":-2.0625,"cell":19,"label":"1","level":"yellow"},{"row":-2.0625,"cell":20,"label":"1","level":"yellow"},{"row":-2.0625,"cell":21,"label":"1","level":"yellow"},{"row":-2.0625,"cell":22,"label":"1","level":"yellow"},{"row":-2.0625,"cell":23,"label":"1","level":"yellow"},{"row":-2.0625,"cell":24,"label":"1","level":"yellow"},{"row":-2.0625,"cell":25,"label":"1","level":"yellow"},{"row":-2.0625,"cell":26,"label":"1","level":"yellow"},{"row":-2.0625,"cell":27,"label":"1","level":"yellow"},{"row":-2.0625,"cell":28,"label":"1","level":"yellow"},{"row":-2.0625,"cell":29,"label":"2","level":"yellow"},{"row":-2.0625,"cell":30,"label":"2","level":"yellow"},{"row":-2.0625,"cell":31,"label":"2","level":"yellow"},{"row":-2.0625,"cell":32,"label":"2","level":"yellow"},
{"row":-2.0625,"cell":43,"label":"1","level":"salmon"},{"row":-2.0625,"cell":44,"label":"1","level":"salmon"},{"row":-2.0625,"cell":45,"label":"1","level":"salmon"},{"row":-2.0625,"cell":46,"label":"1","level":"salmon"},{"row":-2.0625,"cell":47,"label":"1","level":"salmon"},{"row":-2.0625,"cell":48,"label":"1","level":"salmon"},{"row":-2.0625,"cell":49,"label":"1","level":"salmon"},{"row":-2.0625,"cell":50,"label":"1","level":"salmon"},{"row":-2.0625,"cell":51,"label":"1","level":"salmon"},{"row":-2.0625,"cell":52,"label":"1","level":"salmon"},{"row":-2.0625,"cell":53,"label":"2","level":"salmon"},{"row":-2.0625,"cell":54,"label":"2","level":"salmon"},{"row":-2.0625,"cell":55,"label":"2","level":"salmon"},{"row":-2.0625,"cell":56,"label":"2","level":"salmon"},
{"row":-2.0625,"cell":67,"label":"1","level":"magenta"},{"row":-2.0625,"cell":68,"label":"1","level":"magenta"},{"row":-2.0625,"cell":69,"label":"1","level":"magenta"},{"row":-2.0625,"cell":70,"label":"1","level":"magenta"},{"row":-2.0625,"cell":71,"label":"1","level":"magenta"},{"row":-2.0625,"cell":72,"label":"1","level":"magenta"},{"row":-2.0625,"cell":73,"label":"1","level":"magenta"},{"row":-2.0625,"cell":74,"label":"1","level":"magenta"},{"row":-2.0625,"cell":75,"label":"1","level":"magenta"},{"row":-2.0625,"cell":76,"label":"1","level":"magenta"},{"row":-2.0625,"cell":77,"label":"2","level":"magenta"},{"row":-2.0625,"cell":78,"label":"2","level":"magenta"},{"row":-2.0625,"cell":79,"label":"2","level":"magenta"},{"row":-2.0625,"cell":80,"label":"2","level":"magenta"},
{"row":15.125,"cell":0,"label":"3","level":"blue"},{"row":15.125,"cell":1,"label":"6","level":"blue"},{"row":15.125,"cell":2,"label":"9","level":"blue"},{"row":15.125,"cell":3,"label":"2","level":"blue"},{"row":15.125,"cell":4,"label":"5","level":"blue"},{"row":15.125,"cell":5,"label":"8","level":"blue"},{"row":15.125,"cell":6,"label":"1","level":"blue"},
{"row":15.125,"cell":7,"label":"0","level":"green"},{"row":15.125,"cell":8,"label":"3","level":"green"},{"row":15.125,"cell":9,"label":"6","level":"green"},{"row":15.125,"cell":10,"label":"9","level":"green"},{"row":15.125,"cell":11,"label":"2","level":"green"},{"row":15.125,"cell":12,"label":"5","level":"green"},{"row":15.125,"cell":13,"label":"8","level":"green"},{"row":15.125,"cell":14,"label":"1","level":"green"},
{"row":15.125,"cell":15,"label":"0","level":"yellow"},{"row":15.125,"cell":16,"label":"3","level":"yellow"},{"row":15.125,"cell":17,"label":"6","level":"yellow"},{"row":15.125,"cell":18,"label":"9","level":"yellow"},{"row":15.125,"cell":19,"label":"2","level":"yellow"},{"row":15.125,"cell":20,"label":"5","level":"yellow"},{"row":15.125,"cell":21,"label":"8","level":"yellow"},{"row":15.125,"cell":22,"label":"1","level":"yellow"},
{"row":15.125,"cell":23,"label":"0","level":"salmon"},{"row":15.125,"cell":24,"label":"3","level":"salmon"},{"row":15.125,"cell":25,"label":"6","level":"salmon"},{"row":15.125,"cell":26,"label":"9","level":"salmon"},{"row":15.125,"cell":27,"label":"2","level":"salmon"},{"row":15.125,"cell":28,"label":"5","level":"salmon"},{"row":15.125,"cell":29,"label":"8","level":"salmon"},{"row":15.125,"cell":30,"label":"1","level":"salmon"},
{"row":15.125,"cell":31,"label":"0","level":"magenta"},{"row":15.125,"cell":32,"label":"3","level":"magenta"},{"row":15.125,"cell":33,"label":"6","level":"magenta"},{"row":15.125,"cell":34,"label":"9","level":"magenta"},{"row":15.125,"cell":35,"label":"2","level":"magenta"},{"row":15.125,"cell":36,"label":"5","level":"magenta"},{"row":15.125,"cell":37,"label":"8","level":"magenta"},{"row":15.125,"cell":38,"label":"1","level":"magenta"},
{"row":15.125,"cell":39,"label":"0","level":"blue"},{"row":15.125,"cell":40,"label":"3","level":"blue"},{"row":15.125,"cell":41,"label":"6","level":"blue"},{"row":15.125,"cell":42,"label":"9","level":"blue"},{"row":15.125,"cell":43,"label":"2","level":"blue"},{"row":15.125,"cell":44,"label":"5","level":"blue"},{"row":15.125,"cell":45,"label":"8","level":"blue"},{"row":15.125,"cell":46,"label":"1","level":"blue"},{"row":15.125,"cell":47,"label":"0","level":"green"},
{"row":14.1875,"cell":3,"label":"1","level":"blue"},{"row":14.1875,"cell":4,"label":"1","level":"blue"},{"row":14.1875,"cell":5,"label":"1","level":"blue"},{"row":14.1875,"cell":6,"label":"2","level":"blue"},
{"row":14.1875,"cell":11,"label":"1","level":"green"},{"row":14.1875,"cell":12,"label":"1","level":"green"},{"row":14.1875,"cell":13,"label":"1","level":"green"},{"row":14.1875,"cell":14,"label":"2","level":"green"},
{"row":14.1875,"cell":19,"label":"1","level":"yellow"},{"row":14.1875,"cell":20,"label":"1","level":"yellow"},{"row":14.1875,"cell":21,"label":"1","level":"yellow"},{"row":14.1875,"cell":22,"label":"2","level":"yellow"},
{"row":14.1875,"cell":27,"label":"1","level":"salmon"},{"row":14.1875,"cell":28,"label":"1","level":"salmon"},{"row":14.1875,"cell":29,"label":"1","level":"salmon"},{"row":14.1875,"cell":30,"label":"2","level":"salmon"},
{"row":14.1875,"cell":35,"label":"1","level":"magenta"},{"row":14.1875,"cell":36,"label":"1","level":"magenta"},{"row":14.1875,"cell":37,"label":"1","level":"magenta"},{"row":14.1875,"cell":38,"label":"2","level":"magenta"},
{"row":14.1875,"cell":43,"label":"1","level":"blue"},{"row":14.1875,"cell":44,"label":"1","level":"blue"},{"row":14.1875,"cell":45,"label":"1","level":"blue"},{"row":14.1875,"cell":46,"label":"2","level":"blue"}
]
},
"encoding":{
"x":{"field":"cell","type":"quantitative","axis":null,"scale":{"domain":[-10,81.7142857],"nice":false,"zero":false}},
"y":{"field":"row","type":"quantitative","axis":null,"scale":{"domain":[-5.1875,21.3125],"reverse":true,"nice":false,"zero":false}},
"color":{"field":"level","type":"nominal","legend":null,"scale":{
"domain":["n","d","m","b","l","s","T","t","a","p","g","h","e","w","W","hr","hR","hE","ho","hO","hY","hy","hG","hM","hC","hA","ta","tf","ty","tr","N","E1","E2","E3","E4","E4b","E5","E6","M1","M2","M3","M4","M5","M6","X0","X1","X2","X4","X5","X6","green","yellow","olive","salmon","magenta","blue","white","red","cyan","skybar","groundbar","black"],
"range":["#023f7f","#14589a","#2c6cb0","#4f8fd2","#62a2e6","#78b6fa","#80bfbf","#95d5d5","#a0e0e0","#aeeeee","#c6c6c6","#e0e0e0","#e9e9e9","#fafafa","#ffffff","#e00000","#b80000","#ee0000","#ff3500","#ff8800","#ffc800","#e8ff10","#98ff68","#58ffb0","#08ffe8","#80c0c0","#ffa000","#ff5c00","#ffdc00","#ff2000","#00045a",
{"expr":"{gradient:'linear',x1:0,y1:0,x2:1,y2:0,stops:[{offset:0,color:'#fffdf9'},{offset:1,color:'#fff4e4'}]}"},
{"expr":"{gradient:'linear',x1:0,y1:0,x2:1,y2:0,stops:[{offset:0,color:'#fff8ee'},{offset:1,color:'#ffe9c8'}]}"},
{"expr":"{gradient:'linear',x1:0,y1:0,x2:1,y2:0,stops:[{offset:0,color:'#fff0da'},{offset:1,color:'#ffdca8'}]}"},
{"expr":"{gradient:'linear',x1:0,y1:0,x2:1,y2:0,stops:[{offset:0,color:'#ffe9c4'},{offset:0.5,color:'#ffcc78'},{offset:0.75,color:'#ffa010'},{offset:0.78,color:'#00b8f0'},{offset:1,color:'#0090f0'}]}"},
{"expr":"{gradient:'linear',x1:0,y1:0,x2:1,y2:0,stops:[{offset:0,color:'#ffe9c4'},{offset:0.5,color:'#ffcc78'},{offset:0.7,color:'#f0b030'},{offset:0.82,color:'#40c090'},{offset:1,color:'#0090f0'}]}"},
{"expr":"{gradient:'linear',x1:0,y1:0,x2:1,y2:0,stops:[{offset:0,color:'#0080f0'},{offset:1,color:'#0070ee'}]}"},
{"expr":"{gradient:'linear',x1:0,y1:0,x2:1,y2:0,stops:[{offset:0,color:'#0068e8'},{offset:0.2,color:'#0040d0'},{offset:0.35,color:'#002090'},{offset:0.6,color:'#000a68'},{offset:1,color:'#00045a'}]}"},
{"expr":"{gradient:'linear',x1:0,y1:0,x2:1,y2:0,stops:[{offset:0,color:'#00045a'},{offset:0.6,color:'#000870'},{offset:1,color:'#001090'}]}"},
{"expr":"{gradient:'linear',x1:0,y1:0,x2:1,y2:0,stops:[{offset:0,color:'#0050e0'},{offset:0.3,color:'#0078f0'},{offset:1,color:'#0078f0'}]}"},
{"expr":"{gradient:'linear',x1:0,y1:0,x2:1,y2:0,stops:[{offset:0,color:'#0080f0'},{offset:0.3,color:'#00b0f0'},{offset:0.4,color:'#ffa810'},{offset:0.7,color:'#ffb030'},{offset:1,color:'#ffc870'}]}"},
{"expr":"{gradient:'linear',x1:0,y1:0,x2:1,y2:0,stops:[{offset:0,color:'#ffdca8'},{offset:1,color:'#fff0dc'}]}"},
{"expr":"{gradient:'linear',x1:0,y1:0,x2:1,y2:0,stops:[{offset:0,color:'#ffeccc'},{offset:1,color:'#fff6e8'}]}"},
{"expr":"{gradient:'linear',x1:0,y1:0,x2:1,y2:0,stops:[{offset:0,color:'#fff5e6'},{offset:1,color:'#fffdfa'}]}"},
{"expr":"{gradient:'linear',x1:0,y1:0,x2:1,y2:0,stops:[{offset:0,color:'#00045a'},{offset:0.5,color:'#000a80'},{offset:0.65,color:'#0040d0'},{offset:1,color:'#0078f0'}]}"},
{"expr":"{gradient:'linear',x1:0,y1:0,x2:1,y2:0,stops:[{offset:0,color:'#ffb030'},{offset:0.12,color:'#ffcc78'},{offset:0.5,color:'#ffe6c0'},{offset:1,color:'#fff6e8'}]}"},
{"expr":"{gradient:'linear',x1:0,y1:0,x2:1,y2:0,stops:[{offset:0,color:'#fff0dc'},{offset:1,color:'#ffffff'}]}"},
{"expr":"{gradient:'linear',x1:0,y1:0,x2:1,y2:0,stops:[{offset:0,color:'#ffffff'},{offset:1,color:'#ffeed8'}]}"},
{"expr":"{gradient:'linear',x1:0,y1:0,x2:1,y2:0,stops:[{offset:0,color:'#ffe9c4'},{offset:0.5,color:'#ffb040'},{offset:0.6,color:'#ffa010'},{offset:0.65,color:'#0090f0'},{offset:1,color:'#0070ee'}]}"},
{"expr":"{gradient:'linear',x1:0,y1:0,x2:1,y2:0,stops:[{offset:0,color:'#0060e0'},{offset:0.15,color:'#0030b0'},{offset:0.5,color:'#000a70'},{offset:1,color:'#00045a'}]}"},
"#80ff80","#ffff00","#c8c800","#ff7070","#ff00ff","#7070ff","#ffffff","#ff0000","#00c8c8","#0a60f0","#3c6000","#000000"]}}
},
"layer":[
{"data":{"values":[{"cell":-10,"cell2":-9.142857,"row":-0.375,"row2":4.4375,"level":"skybar"},{"cell":-10,"cell2":-9.142857,"row":6.625,"row2":10.375,"level":"groundbar"},{"cell":-10,"cell2":-9.142857,"row":15.875,"row2":18.625,"level":"skybar"},{"cell":48.857,"cell2":49.43,"row":20.375,"row2":21.3125,"level":"red"},{"cell":49.43,"cell2":50.143,"row":20.375,"row2":21.3125,"level":"W"},{"cell":50.143,"cell2":50.786,"row":20.375,"row2":21.3125,"level":"red"},{"cell":50.786,"cell2":60.714,"row":20.375,"row2":21.3125,"level":"W"}]},
"mark":{"type":"rect"},"encoding":{"x2":{"field":"cell2"},"y2":{"field":"row2"}}},
{"data":{"name":"links"},"mark":{"type":"rect","height":8},"encoding":{"x2":{"field":"cell2"}}},
{"data":{"name":"cells"},"mark":{"type":"rect","width":12,"height":12}},
{"data":{"values":[{"cell":8.5714,"row":-0.375,"row2":10.4375,"level":"red"},{"cell":32.5714,"row":-0.375,"row2":10.4375,"level":"red"},{"cell":56.5714,"row":-0.375,"row2":10.4375,"level":"red"},{"cell":80.5714,"row":-0.375,"row2":10.4375,"level":"red"},{"cell":6.5714,"row":15.875,"row2":18.625,"level":"red"},{"cell":14.5714,"row":15.875,"row2":18.625,"level":"red"},{"cell":22.5714,"row":15.875,"row2":18.625,"level":"red"},{"cell":30.5714,"row":15.875,"row2":18.625,"level":"red"},{"cell":38.5714,"row":15.875,"row2":18.625,"level":"red"},{"cell":46.5714,"row":15.875,"row2":18.625,"level":"red"}]},
"mark":{"type":"rule","strokeWidth":2},"encoding":{"y2":{"field":"row2"}}},
{"data":{"name":"digits"},"mark":{"type":"text","font":"Liberation Mono","fontSize":15,"align":"center","baseline":"middle"},"encoding":{"text":{"field":"label"}}},
{"data":{"values":[
{"cell":-9,"row":0,"label":"Cloud Cover:","level":"white"},{"cell":-9,"row":1,"label":"ECMWF Cloud:","level":"white"},{"cell":-9,"row":2,"label":"Transparency:","level":"white"},{"cell":-9,"row":3,"label":"Seeing:","level":"white"},{"cell":-9,"row":4,"label":"Darkness:","level":"white"},{"cell":-9,"row":7,"label":"Smoke:","level":"white"},{"cell":-9,"row":8,"label":"Wind:","level":"white"},{"cell":-9,"row":9,"label":"Humidity:","level":"white"},{"cell":-9,"row":10,"label":"Temperature:","level":"white"},{"cell":-9,"row":16.25,"label":"Cloud Cover:","level":"white"},{"cell":-9,"row":17.25,"label":"ECMWF Cloud:","level":"white"},{"cell":-9,"row":18.25,"label":"Darkness:","level":"white"}]},
"mark":{"type":"text","font":"Liberation Mono","fontSize":15,"align":"left","baseline":"middle","dy":-2},"encoding":{"text":{"field":"label"}}},
{"data":{"values":[
{"cell":-9.857,"row":-3,"label":"2026-08-13","level":"green"},{"cell":-9.857,"row":-2.0625,"label":"Local Time","level":"olive"},{"cell":-0.357,"row":-3,"label":"Thursday, 13","level":"green"},{"cell":18.571,"row":-3,"label":"Friday, 14","level":"yellow"},{"cell":42.571,"row":-3,"label":"Saturday, 15","level":"salmon"},{"cell":66.571,"row":-3,"label":"Sunday, 16","level":"magenta"},{"cell":80.571,"row":-3,"label":"M","level":"blue"},
{"cell":-10,"row":12.0625,"label":"EXTENDED Forecast. Each block is 3 hours. (A sponsored feature)","level":"red"},
{"cell":-9.857,"row":13.25,"label":"2026-08-17","level":"blue"},{"cell":-9.857,"row":14.1875,"label":"Local Time","level":"olive"},{"cell":1.929,"row":13.25,"label":"Mon, 17","level":"blue"},{"cell":9.929,"row":13.25,"label":"Tue, 18","level":"green"},{"cell":17.929,"row":13.25,"label":"Wed, 19","level":"yellow"},{"cell":25.929,"row":13.25,"label":"Thu, 20","level":"salmon"},{"cell":33.929,"row":13.25,"label":"Fri, 21","level":"magenta"},{"cell":41.929,"row":13.25,"label":"Sat, 22","level":"blue"},
{"cell":10.857,"row":20.8125,"label":"© 2026 Attilla Danko\u00a0\u00a0forecast: A.Rahill\u00a0\u00a0data:","level":"white"}]},
"mark":{"type":"text","font":"Liberation Mono","fontSize":15,"align":"left","baseline":"middle"},"encoding":{"text":{"field":"label"}}},
{"data":{"values":[{"cell":19.571,"row":-4.5,"label":"Chamberlin Observatory","level":"yellow"},{"cell":39.357,"row":-4.5,"label":"Clear Sky Chart","level":"cyan"}]},
"mark":{"type":"text","font":"Liberation Mono","fontWeight":"bold","fontSize":20,"align":"left","baseline":"middle"},"encoding":{"text":{"field":"label"}}},
{"data":{"values":[{"cell":-9.786,"row":-1.3125,"label":"(GMT -6+0)","level":"olive"},{"cell":-9.786,"row":15,"label":"(GMT -6+0)","level":"olive"}]},
"mark":{"type":"text","font":"Liberation Mono","fontWeight":"bold","fontSize":8,"align":"left","baseline":"middle"},"encoding":{"text":{"field":"label"}}},
{"data":{"values":[{"cell":-9.571,"row":2.03,"label":"- - Sky - -","level":"yellow"},{"cell":-9.571,"row":8.5,"label":"- Ground -","level":"white"},{"cell":-9.571,"row":17.25,"label":"- Sky -","level":"yellow"}]},
"mark":{"type":"text","font":"DejaVu Sans Mono","fontSize":10,"angle":270,"align":"center","baseline":"middle"},"encoding":{"text":{"field":"label"}}},
{"data":{"values":[{"cell":51.786,"row":20.625,"label":"Environment","level":"black"},{"cell":51.786,"row":21.06,"label":"Canada","level":"black"},{"cell":56.43,"row":20.625,"label":"Environnement","level":"black"},{"cell":56.43,"row":21.06,"label":"Canada","level":"black"}]},
"mark":{"type":"text","font":"Liberation Sans","fontSize":8,"align":"left","baseline":"middle"},"encoding":{"text":{"field":"label"}}},
{"data":{"values":[{"cell":49.786,"row":20.84,"level":"red"}]},
"mark":{"type":"point","filled":true,"opacity":1,"size":45,"shape":"M0,-1L.25,-.55L.45,-.65L.35,-.1L.7,-.35L.85,-.1L.6,.1L.75,.35L.2,.3L.1,.35L.05,.9L-.05,.9L-.1,.35L-.2,.3L-.75,.35L-.6,.1L-.85,-.1L-.7,-.35L-.35,-.1L-.45,-.65L-.25,-.55Z"}}
]}
